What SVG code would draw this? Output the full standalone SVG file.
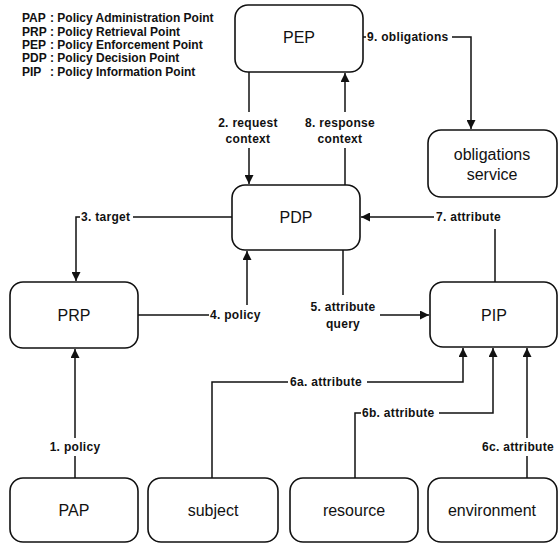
<svg xmlns="http://www.w3.org/2000/svg" width="560" height="546" viewBox="0 0 560 546">
<style>
.box{fill:#fff;stroke:#111;stroke-width:1.6}
.nt{font-family:"Liberation Sans",Arial,sans-serif;font-size:16px;fill:#111;text-anchor:middle}
.lb{font-family:"Liberation Sans",Arial,sans-serif;font-size:12px;font-weight:bold;fill:#111;letter-spacing:0.3px}
.lg{font-family:"Liberation Sans",Arial,sans-serif;font-size:12px;font-weight:bold;fill:#111}
.c{text-anchor:middle}
.ln{fill:none;stroke:#111;stroke-width:1.5}
</style>
<defs>
<marker id="ah" viewBox="0 0 10 10" refX="10" refY="5" markerWidth="10" markerHeight="9" markerUnits="userSpaceOnUse" orient="auto">
<path d="M0,0 L10,5 L0,10 Z" fill="#111"/>
</marker>
</defs>
<rect width="560" height="546" fill="#fff"/>
<g id="legend" class="lg">
<text x="22" y="22">PAP</text><text x="50" y="22">: Policy Administration Point</text>
<text x="22" y="35.5">PRP</text><text x="50" y="35.5">: Policy Retrieval Point</text>
<text x="22" y="49">PEP</text><text x="50" y="49">: Policy Enforcement Point</text>
<text x="22" y="62">PDP</text><text x="50" y="62">: Policy Decision Point</text>
<text x="22" y="75.5">PIP</text><text x="50" y="75.5">: Policy Information Point</text>
</g>
<g id="connectors">
<path class="ln" d="M249,72 V112"/>
<path class="ln" d="M249,148 V184" marker-end="url(#ah)"/>
<path class="ln" d="M345,185 V148"/>
<path class="ln" d="M345,112 V73" marker-end="url(#ah)"/>
<path class="ln" d="M363,37 H366"/>
<path class="ln" d="M452,37 H471 V129" marker-end="url(#ah)"/>
<path class="ln" d="M232,217 H133"/>
<path class="ln" d="M80,217 H76 V281" marker-end="url(#ah)"/>
<path class="ln" d="M138,315 H209"/>
<path class="ln" d="M247,305 V251" marker-end="url(#ah)"/>
<path class="ln" d="M343,250 V295"/>
<path class="ln" d="M380,315 H429" marker-end="url(#ah)"/>
<path class="ln" d="M495,282 V229"/>
<path class="ln" d="M434,217 H361" marker-end="url(#ah)"/>
<path class="ln" d="M212,478 V382 H288"/>
<path class="ln" d="M367,382 H463 V348" marker-end="url(#ah)"/>
<path class="ln" d="M355,478 V413 H361"/>
<path class="ln" d="M439,413 H493 V348" marker-end="url(#ah)"/>
<path class="ln" d="M527,478 V456"/>
<path class="ln" d="M527,438 V348" marker-end="url(#ah)"/>
<path class="ln" d="M75,478 V456"/>
<path class="ln" d="M75,438 V349" marker-end="url(#ah)"/>
<g class="lb">
<text x="248" y="127" class="c">2. request</text>
<text x="248" y="143" class="c">context</text>
<text x="340" y="127" class="c">8. response</text>
<text x="340" y="143" class="c">context</text>
<text x="367" y="41">9. obligations</text>
<text x="81" y="221">3. target</text>
<text x="210" y="319">4. policy</text>
<text x="343" y="311" class="c">5. attribute</text>
<text x="343" y="328" class="c">query</text>
<text x="436" y="221">7. attribute</text>
<text x="290" y="386">6a. attribute</text>
<text x="362" y="417">6b. attribute</text>
<text x="482" y="451">6c. attribute</text>
<text x="75" y="451" class="c">1. policy</text>
</g>
</g>
<g id="PEP"><rect class="box" x="235" y="5" width="128" height="67" rx="13"/><text class="nt" x="299" y="43">PEP</text></g>
<g id="obligations"><rect class="box" x="428" y="130" width="129" height="67" rx="13"/><text class="nt" x="492" y="160">obligations</text><text class="nt" x="492" y="180">service</text></g>
<g id="PDP"><rect class="box" x="232" y="185" width="128" height="65" rx="13"/><text class="nt" x="296" y="223">PDP</text></g>
<g id="PRP"><rect class="box" x="10" y="282" width="128" height="66" rx="13"/><text class="nt" x="74" y="321">PRP</text></g>
<g id="PIP"><rect class="box" x="430" y="282" width="127" height="65" rx="13"/><text class="nt" x="494" y="321">PIP</text></g>
<g id="PAP"><rect class="box" x="10" y="478" width="128" height="64" rx="13"/><text class="nt" x="74" y="516">PAP</text></g>
<g id="subject"><rect class="box" x="148" y="478" width="130" height="64" rx="13"/><text class="nt" x="213" y="516">subject</text></g>
<g id="resource"><rect class="box" x="290" y="478" width="128" height="64" rx="13"/><text class="nt" x="354" y="516">resource</text></g>
<g id="environment"><rect class="box" x="428" y="478" width="129" height="64" rx="13"/><text class="nt" x="492" y="516">environment</text></g>
</svg>
